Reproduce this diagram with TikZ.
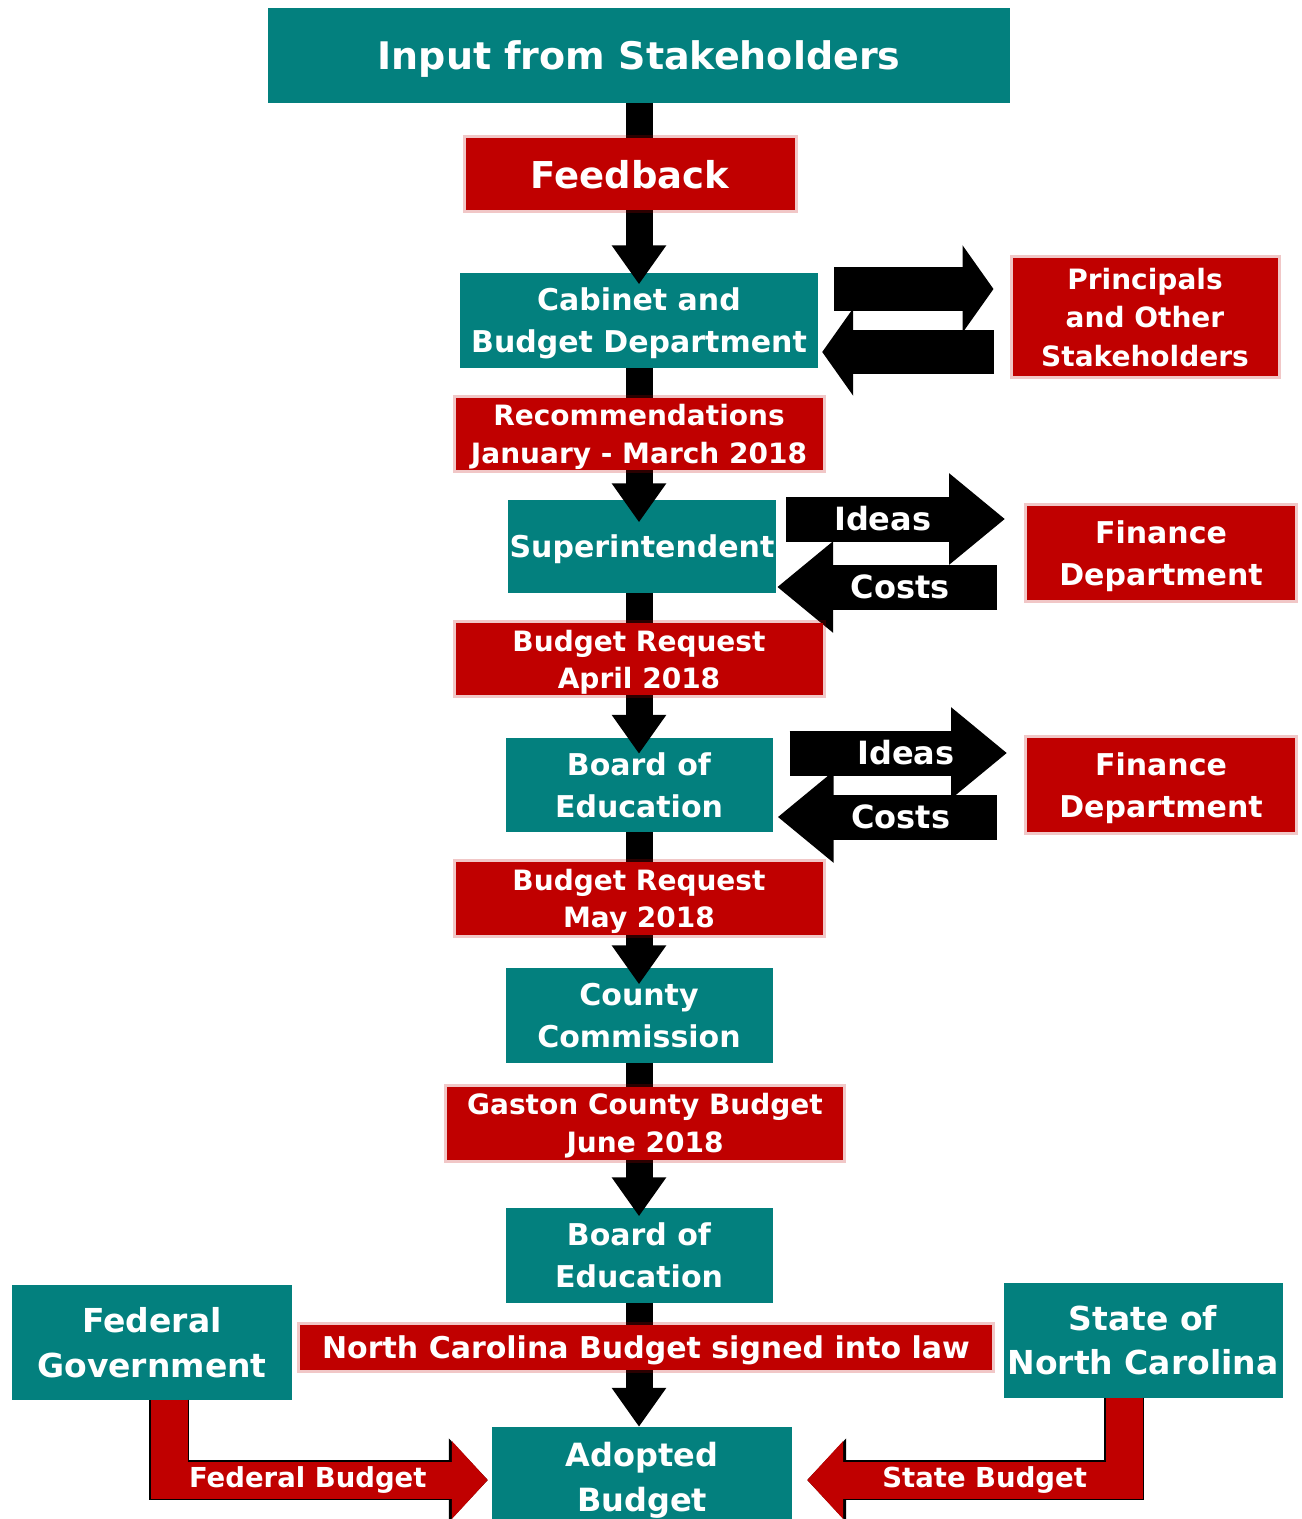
\documentclass[tikz,border=0pt]{standalone}
\usepackage{fontspec}
\setmainfont{DejaVu Sans}
\usetikzlibrary{arrows.meta,positioning,calc}
\definecolor{BudgetTeal}{HTML}{03807E}
\definecolor{BudgetRed}{HTML}{C00000}
\newcommand\pxfont[2]{\fontsize{#1}{#2}\selectfont\bfseries}
\tikzset{
  stage/.style={fill=BudgetTeal, text=white, align=center, inner sep=0pt, text depth=0pt},
  tag/.style={fill=BudgetRed, text=white, align=center, inner sep=0pt, text depth=0pt,
              draw=BudgetRed, draw opacity=0.22, line width=6pt},
  down/.style={-{Triangle[length=39pt,width=52pt]}, line width=27pt, draw=black},
  swap/.style={-{Triangle[length=56pt,width=88pt]}, line width=45pt, draw=black},
  wide/.style={-{Triangle[length=31pt,width=86pt]}, line width=44pt, draw=black},
  feed/.style={-{Triangle[length=36pt,width=76pt]}, line width=37pt, draw=BudgetRed,
               line join=miter,
               preaction={draw=black, line width=40pt, line join=miter,
                          -{Triangle[length=39pt,width=81pt]}}},
  onarrow/.style={text=white, font=\pxfont{32}{38}},
}

\begin{document}
\begin{tikzpicture}[x=1pt,y=-1pt]
  \useasboundingbox (0,0) rectangle (1302,1519);
  % teal stages down the middle
  \node[stage,minimum width=742pt,minimum height=95pt,font=\pxfont{38}{46}] (input) at (639,55) {Input from Stakeholders};
  \node[stage,minimum width=358pt,minimum height=95pt,font=\pxfont{30}{42}] (cab) at (639,320) {Cabinet and\\Budget Department};
  \node[stage,minimum width=268pt,minimum height=93pt,font=\pxfont{30}{42}] (sup) at (642,546) {Superintendent};
  \node[stage,minimum width=267pt,minimum height=94pt,font=\pxfont{30}{42}] (boe) at (639,785) {Board of\\Education};
  \node[stage,minimum width=267pt,minimum height=95pt,font=\pxfont{30}{42}] (cc) at (639,1015) {County\\Commission};
  \node[stage,minimum width=267pt,minimum height=95pt,font=\pxfont{30}{42}] (boe2) at (639,1255) {Board of\\Education};
  \node[stage,minimum width=300pt,minimum height=100pt,font=\pxfont{32}{45}] (adopt) at (642,1477) {Adopted\\Budget};
  \node[stage,minimum width=280pt,minimum height=115pt,font=\pxfont{33}{45}] (fed) at (152,1342) {Federal\\Government};
  \node[stage,minimum width=279pt,minimum height=115pt,font=\pxfont{33}{44}] (state) at (1143,1340) {State of\\North Carolina};

  % red partners on the right
  \node[tag,minimum width=265pt,minimum height=118pt,font=\pxfont{28}{38.5}] (prin) at (1145,317) {Principals\\and Other\\Stakeholders};
  \node[tag,minimum width=268pt,minimum height=94pt,font=\pxfont{30}{42}] (fin) at (1161,553) {Finance\\Department};
  \node[tag,minimum width=268pt,minimum height=94pt,font=\pxfont{30}{42}] (fin2) at (1161,785) {Finance\\Department};

  % main column
  \draw[down,shorten >=-12pt] (input) -- (cab);
  \draw[down,shorten >=-23pt] (cab) -- (cab |- sup.north);
  \draw[down,shorten >=-16pt] (sup.south -| boe) -- (boe);
  \draw[down,shorten >=-17pt] (boe) -- (cc);
  \draw[down,shorten >=-9pt] (cc) -- (boe2);
  \draw[down] (boe2) -- (boe2 |- adopt.north);

  % exchanges at the side
  \draw[wide,shorten <=16pt,shorten >=16pt] ([yshift=31pt]cab.east) -- ([yshift=28pt]prin.west);
  \draw[wide,shorten <=16pt,shorten >=4pt] ([yshift=-35pt]prin.west) -- ([yshift=-32pt]cab.east);
  \draw[swap,shorten <=10pt,shorten >=19pt] ([yshift=27pt]sup.east) -- node[onarrow,pos=0.43] {Ideas} ([yshift=34pt]fin.west);
  \draw[swap,shorten <=27pt,shorten >=1pt] ([yshift=-34pt]fin.west) -- node[onarrow,pos=0.5] {Costs} ([yshift=-41pt]sup.east);
  \draw[swap,shorten <=17pt,shorten >=17pt] ([yshift=32pt]boe.east) -- node[onarrow,pos=0.53] {Ideas} ([yshift=32pt]fin2.west);
  \draw[swap,shorten <=27pt,shorten >=5pt] ([yshift=-32pt]fin2.west) -- node[onarrow,pos=0.49] {Costs} ([yshift=-32pt]boe.east);

  % budgets feeding in from below
  \coordinate (fedbend) at (169,1480);
  \coordinate (statebend) at (1124,1480);
  \draw[feed,shorten >=4pt] (fed.south -| fedbend) -- (fedbend) -- node[text=white,pos=0.43,font=\pxfont{27.5}{33}] {Federal Budget} (fedbend -| adopt.west);
  \draw[feed,shorten >=15pt] (state.south -| statebend) -- (statebend) -- node[text=white,pos=0.42,font=\pxfont{27.5}{33}] {State Budget} (statebend -| adopt.east);

  % red labels over the column
  \node[tag,minimum width=329pt,minimum height=72pt,font=\pxfont{37}{44}] (feedback) at (630,174) {Feedback};
  \node[tag,minimum width=367pt,minimum height=72pt,font=\pxfont{28}{38}] (rec) at (639,434) {Recommendations\\January - March 2018};
  \node[tag,minimum width=367pt,minimum height=72pt,font=\pxfont{28}{37}] (april) at (639,659) {Budget Request\\April 2018};
  \node[tag,minimum width=367pt,minimum height=73pt,font=\pxfont{28}{37}] (may) at (639,898) {Budget Request\\May 2018};
  \node[tag,minimum width=396pt,minimum height=73pt,font=\pxfont{28}{38}] (june) at (645,1123) {Gaston County Budget\\June 2018};
  \node[tag,minimum width=692pt,minimum height=45pt,font=\pxfont{30}{36}] (signed) at (646,1347) {North Carolina Budget signed into law};
\end{tikzpicture}
\end{document}
